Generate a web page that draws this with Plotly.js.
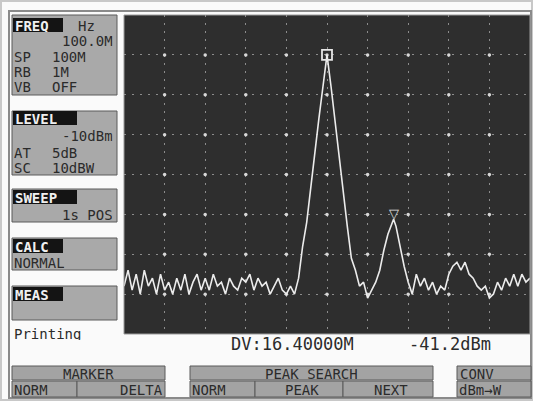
<!DOCTYPE html>
<html>
<head>
<meta charset="utf-8">
<script src="https://cdn.plot.ly/plotly-3.0.1.min.js"></script>
<style>
  html, body { margin: 0; padding: 0; background: #fafafa; }
  #chart { width: 533px; height: 401px; }
</style>
</head>
<body>
<div id="chart"></div>
<script>
// ---- Data (spectrum analyzer trace) ----
const freqMHz = [50,51,52,53,54,55,56,57,58,59,60,61,62,63,64,65,66,67,68,69,70,
  71,72,73,74,75,76,77,78,79,80,81,82,83,84,85,86,87,88,89,90,
  91,92,93,94,95,96,97,98,99,100,101,102,103,104,105,106,107,108,109,110,
  111,112,113,114,115,116.4,117,118,119,120,121,122,123,124,125,126,127,128,129,130,
  131,132,133,134,135,136,137,138,139,140,141,142,143,144,145,146,147,148,149,150];
const levelDbm = [-78,-74,-79,-75,-80,-74,-78,-76,-80,-75,-79,-77,-80,-76,-79,-75,-80,-77,-75,-79,-76,
  -79,-75,-78,-77,-80,-76,-78,-79,-76,-77,-75,-79,-76,-78,-77,-80,-78,-76,-79,-80,
  -78,-80,-76,-68,-62,-53,-44,-36,-28,-20,-28,-37,-46,-55,-63,-71,-74,-78,-77,-81,
  -79,-77,-74,-69,-65,-61.2,-63,-68,-73,-77,-80,-75,-78,-76,-79,-77,-80,-78,-79,-75,
  -73,-72,-74,-72,-75,-76,-78,-79,-78,-81,-80,-77,-79,-76,-78,-75,-78,-75,-77,-76];
const markerFreq = [100];
const markerLevel = [-20];
const deltaFreq = [116.4];
const deltaLevel = [-61.2];
const freqTicks = [50,60,70,80,90,100,110,120,130,140,150];
const levelTicks = [-90,-80,-70,-60,-50,-40,-30,-20,-10];

// ---- Geometry helpers (pixel -> paper) ----
const L = 124, R = 530, T = 15, B = 334;
const W = R - L, H = B - T;
const px = x => (x - L) / W;
const py = y => (B - y) / H;

const shapes = [];
const annotations = [];
const MONO = 'DejaVu Sans Mono, Liberation Mono, monospace';

function rect(x0, y0, x1, y1, fill, line, lw) {
  shapes.push({type: 'rect', xref: 'paper', yref: 'paper',
    x0: px(x0), x1: px(x1), y0: py(y1), y1: py(y0),
    fillcolor: fill, line: {color: line || 'rgba(0,0,0,0)', width: lw === undefined ? 1 : lw}});
}
function txt(s, x, y, anchor, size, color, weight) {
  const sz = size || 14;
  annotations.push({text: s, xref: 'paper', yref: 'paper', x: px(x), y: py(y),
    xanchor: anchor || 'left', yanchor: 'middle', showarrow: false, borderpad: 0,
    height: Math.round(sz * 0.95),
    font: {family: MONO, size: sz, color: color || '#2b2b2b', weight: weight || 'normal'}});
}

// outer frame
rect(1, 1, 532, 400, 'rgba(0,0,0,0)', '#c8c8c8', 2);
rect(9, 11, 531, 398, 'rgba(0,0,0,0)', '#8a8a8a', 2);

// left panel boxes
const BOXF = '#a9a9a9', BOXL = '#5a5a5a';
rect(12, 15, 117, 95, BOXF, BOXL);
rect(12, 111, 117, 175, BOXF, BOXL);
rect(12, 189, 117, 222, BOXF, BOXL);
rect(12, 238, 117, 270, BOXF, BOXL);
rect(12, 286, 117, 320, BOXF, BOXL);
// black header tags
rect(13, 18, 63, 32, '#141414');
rect(13, 111, 77, 125, '#141414');
rect(13, 190, 77, 204, '#141414');
rect(13, 239, 63, 253, '#141414');
rect(13, 287, 63, 301, '#141414');

txt('FREQ', 14, 25, 'left', 14, '#f0f0f0', 'bold');
txt('Hz', 77, 25, 'left');
txt('100.0M', 114, 41, 'right');
txt('SP', 13, 56, 'left'); txt('100M', 51, 56, 'left');
txt('RB', 13, 71, 'left'); txt('1M', 51, 71, 'left');
txt('VB', 13, 86, 'left'); txt('OFF', 51, 86, 'left');

txt('LEVEL', 14, 118, 'left', 14, '#f0f0f0', 'bold');
txt('-10dBm', 114, 135, 'right');
txt('AT', 13, 152, 'left'); txt('5dB', 51, 152, 'left');
txt('SC', 13, 168, 'left'); txt('10dBW', 51, 168, 'left');

txt('SWEEP', 14, 197, 'left', 14, '#f0f0f0', 'bold');
txt('1s POS', 114, 215, 'right');

txt('CALC', 14, 246, 'left', 14, '#f0f0f0', 'bold');
txt('NORMAL', 13, 262, 'left');

txt('MEAS', 14, 294, 'left', 14, '#f0f0f0', 'bold');
txt('Printing', 13, 333, 'left');

// delta readout
txt('DV:16.40000M', 230, 344, 'left', 17);
txt('-41.2dBm', 492, 344, 'right', 17);

// bottom soft-key menu
const MF = '#a3a3a3';
rect(12, 366, 165, 380, MF, BOXL);
rect(190, 366, 433, 380, MF, BOXL);
rect(457, 366, 531, 380, MF, BOXL);
rect(12, 381, 77, 397, MF, BOXL);
rect(77, 381, 165, 397, MF, BOXL);
rect(190, 381, 255, 397, MF, BOXL);
rect(255, 381, 343, 397, MF, BOXL);
rect(343, 381, 433, 397, MF, BOXL);
rect(457, 381, 531, 397, MF, BOXL);
txt('MARKER', 88, 373, 'center');
txt('PEAK SEARCH', 311, 373, 'center');
txt('CONV', 459, 373, 'left');
txt('NORM', 13, 389, 'left');
txt('DELTA', 164, 389, 'right');
txt('NORM', 191, 389, 'left');
txt('PEAK', 302, 389, 'center');
txt('NEXT', 391, 389, 'center');
txt('dBm→W', 458, 389, 'left');

// plot border
shapes.push({type: 'rect', xref: 'paper', yref: 'paper', x0: 0, x1: 1, y0: 0, y1: 1,
  line: {color: '#9a9a9a', width: 1}, fillcolor: 'rgba(0,0,0,0)'});

// grid intersections (from tick arrays)
const gx = [], gy = [];
freqTicks.slice(1, -1).forEach(f => levelTicks.slice(1, -1).forEach(l => { gx.push(f); gy.push(l); }));

// delta marker glyph
annotations.push({text: '▽', x: deltaFreq[0], y: deltaLevel[0], xref: 'x', yref: 'y',
  xanchor: 'center', yanchor: 'bottom', yshift: -3, showarrow: false, borderpad: 0,
  font: {family: 'DejaVu Sans', size: 13, color: '#e0e0e0'}});

const traces = [
  {x: gx, y: gy, mode: 'markers', type: 'scatter', hoverinfo: 'skip',
   marker: {size: 3.5, color: '#d8d8d8'}},
  {x: freqMHz, y: levelDbm, mode: 'lines', type: 'scatter',
   line: {color: '#ececec', width: 1.6}},
  {x: markerFreq, y: markerLevel, mode: 'markers', type: 'scatter',
   marker: {symbol: 'square-open', size: 10, color: '#e6e6e6', line: {width: 1.8, color: '#e6e6e6'}}}
];

const axisCommon = {showticklabels: false, ticks: '', zeroline: false, showline: false,
  showgrid: true, gridcolor: '#8c8c8c', gridwidth: 1, griddash: '2px,6px', fixedrange: true};

const layout = {
  width: 533, height: 401,
  margin: {l: L, r: 533 - R, t: T, b: 401 - B, pad: 0},
  paper_bgcolor: '#fafafa', plot_bgcolor: '#2e2e2e',
  showlegend: false,
  xaxis: Object.assign({range: [50, 150], tickvals: freqTicks}, axisCommon),
  yaxis: Object.assign({range: [-90, -10], tickvals: levelTicks}, axisCommon),
  shapes: shapes,
  annotations: annotations
};

Plotly.newPlot('chart', traces, layout, {staticPlot: true, displayModeBar: false});
</script>
</body>
</html>
